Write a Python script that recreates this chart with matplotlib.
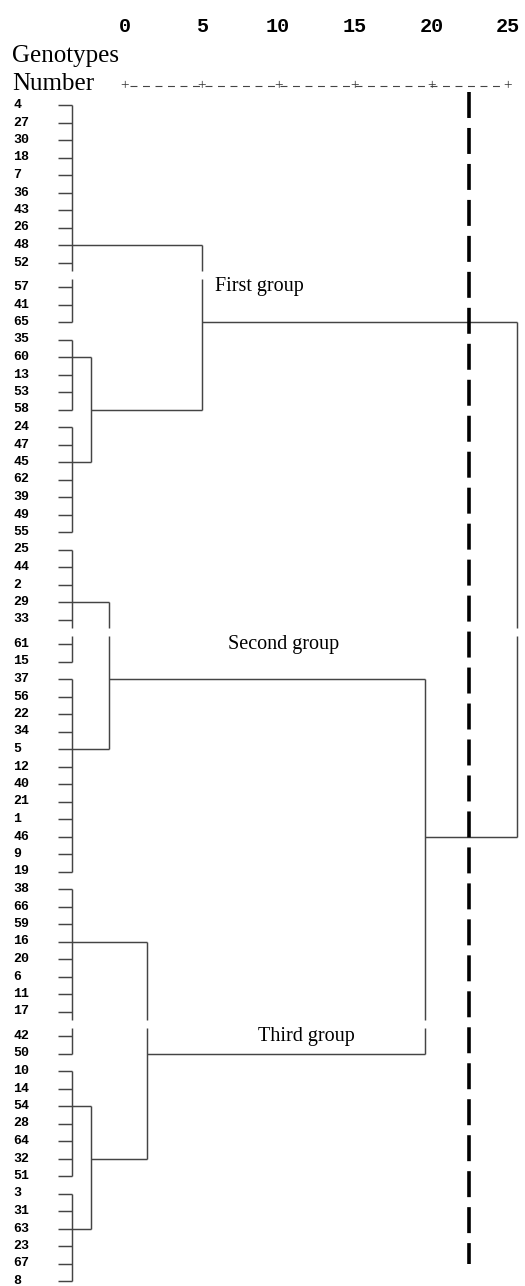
import matplotlib
matplotlib.use("Agg")
import matplotlib.pyplot as plt

plt.rcParams["lines.scale_dashes"] = False

# ---------------- data ----------------
leaf_labels = ["4", "27", "30", "18", "7", "36", "43", "26", "48", "52",
               "57", "41", "65", "35", "60", "13", "53", "58", "24", "47",
               "45", "62", "39", "49", "55", "25", "44", "2", "29", "33",
               "61", "15", "37", "56", "22", "34", "5", "12", "40", "21",
               "1", "46", "9", "19", "38", "66", "59", "16", "20", "6",
               "11", "17", "42", "50", "10", "14", "54", "28", "64", "32",
               "51", "3", "31", "63", "23", "67", "8"]
page_breaks_after = ["52", "33", "17"]

# clusters joined at rescaled distance 0 (sizes in leaf order) and their joining rows
base_cluster_sizes = [13, 5, 7, 7, 12, 10, 7, 6]
base_cluster_anchor = ["48", "60", "45", "29", "5", "16", "54", "63"]

# merges: node ids 0-7 are the base clusters, merge k creates node 8+k
merge_left = [1, 6, 3, 0, 5, 10, 11]
merge_right = [2, 7, 4, 8, 9, 12, 13]
merge_height = [1.07, 1.07, 2.08, 7.30, 4.21, 19.83, 25.0]
merge_anchor = ["58", "32", "37", "65", "50", "46", None]

cut_height = 22.3
scale_ticks = [0, 5, 10, 15, 20, 25]

group_labels = ["First group", "Second group", "Third group"]
group_label_rows = ["57", "61", "42"]
group_label_dist = [8.03, 8.76, 10.45]

# ---------------- layout ----------------
W, H = 525, 1286
fig = plt.figure(figsize=(W / 100, H / 100), dpi=100)

PX_UNIT = 17.8       # px per distance unit in tree
X0 = 72              # px of distance 0
ROW = 17.5           # px per row
Y0 = 105             # px of first row
GAP = 0.4            # extra rows at each page break
LEAF_TICK = 0.79     # length of leaf ticks (distance units)
LINE_C = "#444444"
LINE_W = 1.05

ax = fig.add_axes([0, 0, 1, 1])
ax.set_xlim(-X0 / PX_UNIT, (W - X0) / PX_UNIT)
ax.set_ylim((H - Y0) / ROW, -Y0 / ROW)
ax.axis("off")

break_idx = [leaf_labels.index(b) for b in page_breaks_after]


def pos(i):
    return i + GAP * sum(1 for b in break_idx if i > b)


def row_of(label):
    return pos(leaf_labels.index(label))


break_mid = [(pos(b) + pos(b + 1)) / 2 for b in break_idx]


def vline(x, ya, yb):
    y1, y2 = min(ya, yb), max(ya, yb)
    segs = []
    cur = y1
    for m in sorted(break_mid):
        if y1 < m < y2:
            segs.append((cur, m - 0.23))
            cur = m + 0.23
    segs.append((cur, y2))
    for s, e in segs:
        ax.plot([x, x], [s, e], color=LINE_C, lw=LINE_W, solid_capstyle="butt")


def hline(y, xa, xb):
    ax.plot([xa, xb], [y, y], color=LINE_C, lw=LINE_W, solid_capstyle="butt")


# leaves and labels
for i, lab in enumerate(leaf_labels):
    y = pos(i)
    ax.text((13 - X0) / PX_UNIT, y, lab, fontsize=9.5, family="Liberation Mono",
            fontweight="bold", ha="left", va="center")
    hline(y, -LEAF_TICK, 0)

# base clusters
node_y = {}
node_h = {}
start = 0
for k, n in enumerate(base_cluster_sizes):
    vline(0, pos(start), pos(start + n - 1))
    node_y[k] = row_of(base_cluster_anchor[k])
    node_h[k] = 0.0
    start += n

# merges
for k in range(len(merge_height)):
    a, b, h = merge_left[k], merge_right[k], merge_height[k]
    hline(node_y[a], node_h[a], h)
    hline(node_y[b], node_h[b], h)
    vline(h, node_y[a], node_y[b])
    nid = 8 + k
    node_h[nid] = h
    if merge_anchor[k] is not None:
        node_y[nid] = row_of(merge_anchor[k])

# cut line
ax.plot([cut_height, cut_height], [-0.75, 66.2], color="black", lw=2.6,
        linestyle=(0, (18.7, 7.2)), zorder=5)

# group labels
for lab, r, d in zip(group_labels, group_label_rows, group_label_dist):
    ax.text(d, row_of(r), lab, fontsize=14.5, family="Liberation Serif",
            ha="left", va="center")

# ---------------- header ----------------
HX0, HUNIT = 125, 15.32
axh = fig.add_axes([0, 0, 1, 1])
axh.set_xlim(-HX0 / HUNIT, (W - HX0) / HUNIT)
axh.set_ylim(H, 0)
axh.axis("off")
axh.patch.set_alpha(0)

for t in scale_ticks:
    axh.text(t, 32, str(t), fontsize=14.5, family="Liberation Mono",
             fontweight="bold", ha="center", va="baseline")
    axh.text(t, 86, "+", fontsize=11, family="Liberation Serif",
             ha="center", va="center", color="#333333")
axh.plot([scale_ticks[0] + 0.3, scale_ticks[-1] - 0.3], [86, 86], color="#444444",
         lw=0.8, linestyle=(0, (5.0, 4.0)))

# pixel-coordinate axes for the header titles
axp = fig.add_axes([0, 0, 1, 1])
axp.set_xlim(0, W)
axp.set_ylim(H, 0)
axp.axis("off")
axp.patch.set_alpha(0)
axp.text(12, 62, "Genotypes", fontsize=18, family="Liberation Serif",
         ha="left", va="baseline")
axp.text(12, 90, "Number", fontsize=18, family="Liberation Serif",
         ha="left", va="baseline")

fig.savefig("out.png", dpi=100)
